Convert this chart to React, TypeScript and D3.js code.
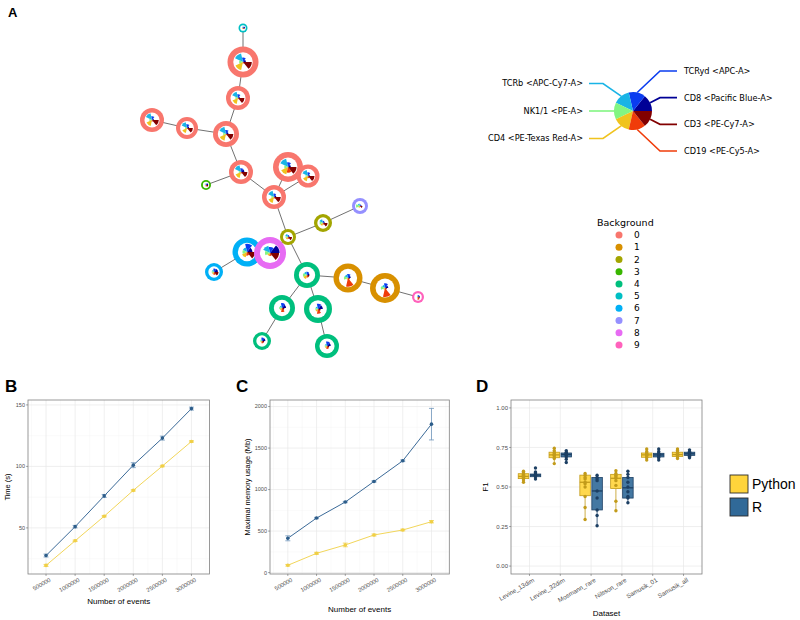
import * as d3 from 'd3';

// ---------- Panel A : FlowSOM tree ----------
// marker order = jet colour order, segments drawn counter-clockwise from east
const markerNames = ['CD8 <Pacific Blue-A>', 'TCRyd <APC-A>', 'TCRb <APC-Cy7-A>', 'NK1/1 <PE-A>', 'CD4 <PE-Texas Red-A>', 'CD19 <PE-Cy5-A>', 'CD3 <PE-Cy7-A>'];
const markerColors = ['#000096', '#0a3cf0', '#19b4e6', '#82f582', '#f0c31e', '#f03c0a', '#820000'];
const backgroundLevels = ['0', '1', '2', '3', '4', '5', '6', '7', '8', '9'];
const bgColors = ['#F8766D', '#D89000', '#A3A500', '#39B600', '#00BF7D', '#00BFC4', '#00B0F6', '#9590FF', '#E76BF3', '#FF62BC'];

// MST layout coordinates of the 25 clusters
const nodeX = [10.3, 10.3, 9.8, 1.2, 4.7, 8.6, 10.1, 6.6, 14.8, 16.8, 13.4, 22.0, 18.3, 14.8, 10.7, 13.0, 7.4, 16.7, 20.8, 24.5, 27.8, 14.2, 17.8, 12.2, 18.7];
const nodeY = [0.8, 4.2, 7.8, 10.0, 10.8, 11.4, 15.2, 16.5, 14.7, 15.6, 17.7, 18.6, 20.3, 21.7, 23.2, 23.3, 25.2, 25.5, 25.8, 26.8, 27.7, 28.8, 28.9, 32.1, 32.6];
const nodeCells = [90, 1068, 640, 640, 538, 751, 640, 111, 1000, 588, 640, 284, 360, 284, 934, 1138, 360, 751, 934, 1000, 160, 751, 871, 360, 640];
const nodeBg = [5, 0, 0, 0, 0, 0, 0, 3, 0, 0, 0, 7, 2, 2, 6, 8, 6, 4, 1, 1, 9, 4, 4, 4, 4];
const nodeStars = [
  [0.7, 0.5, 0.4, 0.3, 0.4, 0.3, 0.6],
  [0.3, 0.45, 0.9, 0.4, 0.85, 0.15, 0.9],
  [0.25, 0.5, 0.85, 0.35, 0.8, 0.15, 0.85],
  [0.25, 0.5, 0.9, 0.35, 0.8, 0.2, 0.9],
  [0.3, 0.55, 0.85, 0.3, 0.75, 0.15, 0.85],
  [0.3, 0.5, 0.9, 0.35, 0.85, 0.15, 0.9],
  [0.45, 0.5, 0.9, 0.3, 0.8, 0.2, 0.85],
  [0.7, 0.5, 0.3, 0.4, 0.3, 0.5, 0.7],
  [0.3, 0.5, 0.9, 0.4, 0.8, 0.6, 0.9],
  [0.25, 0.5, 0.85, 0.35, 0.75, 0.3, 0.9],
  [0.3, 0.45, 0.85, 0.35, 0.8, 0.2, 0.9],
  [0.3, 0.3, 0.5, 0.8, 0.4, 0.2, 0.5],
  [0.3, 0.4, 0.7, 0.6, 0.5, 0.3, 0.8],
  [0.3, 0.4, 0.6, 0.5, 0.5, 0.4, 0.8],
  [0.6, 0.9, 0.5, 0.5, 0.6, 0.4, 0.9],
  [0.95, 0.6, 0.75, 0.5, 0.3, 0.3, 0.9],
  [0.7, 0.6, 0.4, 0.4, 0.4, 0.5, 0.8],
  [0.3, 0.4, 0.4, 0.5, 0.5, 0.3, 0.3],
  [0.3, 0.45, 0.4, 0.45, 0.2, 0.95, 0.2],
  [0.35, 0.5, 0.35, 0.45, 0.2, 0.95, 0.2],
  [0.5, 0.5, 0.3, 0.3, 0.3, 0.7, 0.5],
  [0.5, 0.6, 0.3, 0.35, 0.3, 0.5, 0.3],
  [0.55, 0.6, 0.3, 0.3, 0.3, 0.55, 0.3],
  [0.6, 0.6, 0.3, 0.3, 0.3, 0.4, 0.4],
  [0.5, 0.6, 0.3, 0.3, 0.3, 0.4, 0.3],
];
const edges = [[0, 1], [1, 2], [2, 5], [3, 4], [4, 5], [5, 6], [6, 7], [6, 10], [10, 8], [10, 9], [10, 13], [13, 12], [12, 11], [13, 15], [15, 14], [14, 16], [13, 17], [17, 18], [18, 19], [19, 20], [17, 21], [21, 23], [17, 22], [22, 24]];

// ---------- Panels B & C : scaling ----------
const events = [500000, 1000000, 1500000, 2000000, 2500000, 3000000];
const timeR = [27.5, 51, 76, 101, 123, 147];
const timeRErr = [1.2, 1, 1.2, 2, 1.6, 1.2];
const timePy = [19.5, 39.5, 59.5, 80.5, 100.3, 120.3];
const timePyErr = [0.8, 0.6, 0.6, 0.6, 0.6, 0.6];
const memR = [413, 657, 850, 1098, 1347, 1788];
const memRErr = [30, 8, 8, 8, 10, 190];
const memPy = [88, 232, 333, 453, 513, 613];
const memPyErr = [10, 12, 22, 12, 10, 14];

// ---------- Panel D : F1 per dataset ----------
const datasets = ['Levine_13dim', 'Levine_32dim', 'Mosmann_rare', 'Nilsson_rare', 'Samusik_01', 'Samusik_all'];
// [lower whisker, q1, median, q3, upper whisker]
const pyStats = [
  [0.53, 0.553, 0.567, 0.584, 0.6],
  [0.648, 0.685, 0.703, 0.72, 0.745],
  [0.295, 0.445, 0.53, 0.575, 0.585],
  [0.35, 0.49, 0.555, 0.58, 0.603],
  [0.67, 0.688, 0.703, 0.715, 0.74],
  [0.68, 0.693, 0.705, 0.72, 0.74],
];
const rStats = [
  [0.55, 0.565, 0.575, 0.582, 0.595],
  [0.655, 0.69, 0.705, 0.715, 0.73],
  [0.255, 0.355, 0.475, 0.56, 0.575],
  [0.4, 0.43, 0.495, 0.56, 0.6],
  [0.67, 0.69, 0.703, 0.713, 0.74],
  [0.685, 0.7, 0.71, 0.72, 0.735],
];
const pyRuns = [
  [0.53, 0.545, 0.555, 0.56, 0.565, 0.57, 0.575, 0.58, 0.59, 0.6],
  [0.648, 0.68, 0.69, 0.7, 0.705, 0.71, 0.72, 0.73, 0.745],
  [0.295, 0.37, 0.44, 0.5, 0.52, 0.53, 0.55, 0.56, 0.575, 0.585],
  [0.35, 0.41, 0.51, 0.54, 0.555, 0.565, 0.575, 0.585, 0.603],
  [0.67, 0.685, 0.69, 0.7, 0.705, 0.71, 0.715, 0.725, 0.74],
  [0.68, 0.69, 0.7, 0.705, 0.71, 0.715, 0.72, 0.73, 0.74],
];
const rRuns = [
  [0.55, 0.565, 0.57, 0.575, 0.58, 0.582, 0.59, 0.595, 0.62],
  [0.655, 0.675, 0.69, 0.7, 0.705, 0.71, 0.715, 0.72, 0.73],
  [0.255, 0.32, 0.355, 0.43, 0.475, 0.54, 0.55, 0.56, 0.575],
  [0.4, 0.43, 0.44, 0.47, 0.5, 0.53, 0.56, 0.58, 0.6],
  [0.67, 0.685, 0.69, 0.7, 0.705, 0.71, 0.713, 0.725, 0.74],
  [0.685, 0.695, 0.7, 0.71, 0.715, 0.72, 0.725, 0.735],
];

const PY = '#FFD43B';
const PY_DARK = '#c29b1a';
const RB = '#306998';
const RB_DARK = '#1c3f63';
const GG = 'Liberation Sans, Arial, sans-serif';
const MPL = 'DejaVu Sans, sans-serif';

const TAU = Math.PI * 2;
const arc = d3.arc<any>();

function segment(k: number, r: number) {
  const step = TAU / markerNames.length;
  return arc({ innerRadius: 0, outerRadius: r, startAngle: Math.PI / 2 - (k + 1) * step, endAngle: Math.PI / 2 - k * step }) as string;
}

function PanelA() {
  const x = d3.scaleLinear().domain([0, 30]).range([140, 440]);
  const y = d3.scaleLinear().domain([0, 34]).range([20, 360]);
  const size = d3.scaleSqrt().domain([0, 1000]).range([0, 15]);

  // star legend
  const cx = 633, cy = 111, pr = 19;
  const step = TAU / markerNames.length;
  const right = [1, 0, 6, 5]; // TCRyd, CD8, CD3, CD19 top to bottom
  const left = [2, 3, 4];     // TCRb, NK1/1, CD4
  const ry = d3.scalePoint<number>().domain(right).range([cy - 40, cy + 40]);
  const ly = d3.scalePoint<number>().domain(left).range([cy - 27.5, cy + 27.5]);

  const bgy = d3.scalePoint<string>().domain(backgroundLevels).range([235, 345]);

  return (
    <g>
      <text x={8} y={17} fontFamily={GG} fontWeight="bold" fontSize={13}>A</text>
      {edges.map(([a, b], i) => (
        <line key={i} x1={x(nodeX[a])} y1={y(nodeY[a])} x2={x(nodeX[b])} y2={y(nodeY[b])} stroke="#4d4d4d" strokeWidth={0.8} />
      ))}
      {nodeX.map((nx, i) => {
        const r = size(nodeCells[i]);
        const inner = r * 0.63;
        return (
          <g key={i} transform={`translate(${x(nx)},${y(nodeY[i])})`}>
            <circle r={r} fill={bgColors[nodeBg[i]]} />
            <circle r={inner} fill="#fff" />
            {nodeStars[i].map((v, k) => (
              <path key={k} d={segment(k, v * inner)} fill={markerColors[k]} />
            ))}
          </g>
        );
      })}

      {/* marker legend */}
      <g fontFamily={MPL} fontSize={8.2}>
        {right.map(k => {
          const a = (k + 0.5) * step;
          const sx = cx + pr * Math.cos(a), sy = cy - pr * Math.sin(a);
          const yy = ry(k)!;
          return (
            <g key={k}>
              <polyline points={`${sx},${sy} ${cx + 27},${yy} ${cx + 44},${yy}`} fill="none" stroke={markerColors[k]} strokeWidth={1.6} />
              <text x={cx + 51} y={yy} dy="0.35em">{markerNames[k]}</text>
            </g>
          );
        })}
        {left.map(k => {
          const a = (k + 0.5) * step;
          const sx = cx + pr * Math.cos(a), sy = cy - pr * Math.sin(a);
          const yy = ly(k)!;
          return (
            <g key={k}>
              <polyline points={`${sx},${sy} ${cx - 30},${yy} ${cx - 44},${yy}`} fill="none" stroke={markerColors[k]} strokeWidth={1.6} />
              <text x={cx - 50} y={yy} dy="0.35em" textAnchor="end">{markerNames[k]}</text>
            </g>
          );
        })}
        {markerNames.map((m, k) => (
          <path key={m} d={segment(k, pr)} transform={`translate(${cx},${cy})`} fill={markerColors[k]} />
        ))}
      </g>

      {/* background legend */}
      <g fontFamily={MPL}>
        <text x={597} y={226} fontSize={9.5}>Background</text>
        {backgroundLevels.map((lv, i) => (
          <g key={lv}>
            <circle cx={619} cy={bgy(lv)} r={3.5} fill={bgColors[i]} />
            <text x={634} y={bgy(lv)} dy="0.35em" fontSize={9}>{lv}</text>
          </g>
        ))}
      </g>
    </g>
  );
}

interface Series { values: number[]; err: number[]; line: string; point: string; bar: string }

function LinePanel({ letter, letterX, left, right, yDomain, yTicks, yTitle, yTitleX, xTitleY, series }:
  { letter: string; letterX: number; left: number; right: number; yDomain: [number, number]; yTicks: number[]; yTitle: string; yTitleX: number; xTitleY: number; series: Series[] }) {
  const top = 400, bottom = 574;
  const x = d3.scaleLinear().domain([190000, 3310000]).range([left, right]);
  const y = d3.scaleLinear().domain(yDomain).range([bottom, top]);
  const yStep = yTicks[1] - yTicks[0];
  const yMinor = [yTicks[0] - yStep / 2, ...yTicks.map(t => t + yStep / 2)].filter(v => v > yDomain[0] && v < yDomain[1]);
  const xMinor = [250000, ...events.map(e => e + 250000)].filter(v => v < 3310000);
  const line = d3.line<number>().x((_, i) => x(events[i])).y(d => y(d));
  return (
    <g fontFamily={GG}>
      <text x={letterX} y={392} fontWeight="bold" fontSize={17}>{letter}</text>
      {xMinor.map(v => <line key={'xm' + v} x1={x(v)} x2={x(v)} y1={top} y2={bottom} stroke="#f3f3f3" strokeWidth={0.4} />)}
      {yMinor.map(v => <line key={'ym' + v} x1={left} x2={right} y1={y(v)} y2={y(v)} stroke="#f3f3f3" strokeWidth={0.4} />)}
      {events.map(v => <line key={'xM' + v} x1={x(v)} x2={x(v)} y1={top} y2={bottom} stroke="#e8e8e8" strokeWidth={0.7} />)}
      {yTicks.map(v => <line key={'yM' + v} x1={left} x2={right} y1={y(v)} y2={y(v)} stroke="#e8e8e8" strokeWidth={0.7} />)}
      {series.map((s, si) => (
        <g key={si}>
          <path d={line(s.values)!} fill="none" stroke={s.line} strokeWidth={1} />
          {s.values.map((v, i) => (
            <g key={i}>
              <line x1={x(events[i])} x2={x(events[i])} y1={y(v - s.err[i])} y2={y(v + s.err[i])} stroke={s.bar} strokeWidth={0.8} />
              <line x1={x(events[i]) - 2.5} x2={x(events[i]) + 2.5} y1={y(v - s.err[i])} y2={y(v - s.err[i])} stroke={s.bar} strokeWidth={0.8} />
              <line x1={x(events[i]) - 2.5} x2={x(events[i]) + 2.5} y1={y(v + s.err[i])} y2={y(v + s.err[i])} stroke={s.bar} strokeWidth={0.8} />
              <circle cx={x(events[i])} cy={y(v)} r={1.8} fill={s.point} />
            </g>
          ))}
        </g>
      ))}
      <rect x={left} y={top} width={right - left} height={bottom - top} fill="none" stroke="#808080" strokeWidth={0.8} />
      {yTicks.map(v => (
        <g key={'yt' + v}>
          <line x1={left - 2} x2={left} y1={y(v)} y2={y(v)} stroke="#555" strokeWidth={0.5} />
          <text x={left - 3} y={y(v)} dy="0.35em" textAnchor="end" fontSize={5.5} fill="#4d4d4d">{v}</text>
        </g>
      ))}
      {events.map(v => (
        <g key={'xt' + v}>
          <line x1={x(v)} x2={x(v)} y1={bottom} y2={bottom + 2} stroke="#555" strokeWidth={0.5} />
          <text transform={`translate(${x(v) + 3},${bottom + 3.5}) rotate(-30)`} dy="0.7em" textAnchor="end" fontSize={5.8} fill="#4d4d4d">{v}</text>
        </g>
      ))}
      <text x={(left + right) / 2} y={xTitleY} textAnchor="middle" fontSize={8}>Number of events</text>
      <text transform={`translate(${yTitleX},${(top + bottom) / 2}) rotate(-90)`} textAnchor="middle" fontSize={7.5}>{yTitle}</text>
    </g>
  );
}

function PanelD() {
  const left = 511, right = 702, top = 400, bottom = 574;
  const x = d3.scalePoint<string>().domain(datasets).range([left, right]).padding(0.6);
  const y = d3.scaleLinear().domain([-0.05, 1.05]).range([bottom, top]);
  const yTicks = [0, 0.25, 0.5, 0.75, 1];
  const yMinor = [0.125, 0.375, 0.625, 0.875];
  const fmt = d3.format('.2f');
  const bw = 10.5, off = 6;
  const groups = [
    { stats: pyStats, runs: pyRuns, fill: PY, dark: PY_DARK, dx: -off },
    { stats: rStats, runs: rRuns, fill: RB, dark: RB_DARK, dx: off },
  ];
  return (
    <g fontFamily={GG}>
      <text x={476} y={392} fontWeight="bold" fontSize={17}>D</text>
      {yMinor.map(v => <line key={'ym' + v} x1={left} x2={right} y1={y(v)} y2={y(v)} stroke="#f3f3f3" strokeWidth={0.4} />)}
      {datasets.map(d => <line key={'xM' + d} x1={x(d)} x2={x(d)} y1={top} y2={bottom} stroke="#e8e8e8" strokeWidth={0.7} />)}
      {yTicks.map(v => <line key={'yM' + v} x1={left} x2={right} y1={y(v)} y2={y(v)} stroke="#e8e8e8" strokeWidth={0.7} />)}
      {groups.map((g, gi) => datasets.map((d, i) => {
        const [lo, q1, med, q3, hi] = g.stats[i];
        const cx = x(d)! + g.dx;
        return (
          <g key={gi + d}>
            <line x1={cx} x2={cx} y1={y(lo)} y2={y(q1)} stroke={g.dark} strokeWidth={0.8} />
            <line x1={cx} x2={cx} y1={y(q3)} y2={y(hi)} stroke={g.dark} strokeWidth={0.8} />
            <rect x={cx - bw / 2} y={y(q3)} width={bw} height={Math.max(y(q1) - y(q3), 0.5)} fill={g.fill} fillOpacity={0.9} stroke={g.dark} strokeWidth={0.8} />
            <line x1={cx - bw / 2} x2={cx + bw / 2} y1={y(med)} y2={y(med)} stroke={g.dark} strokeWidth={1.3} />
            {g.runs[i].map((v, j) => <circle key={j} cx={cx} cy={y(v)} r={1.7} fill={g.dark} />)}
          </g>
        );
      }))}
      <rect x={left} y={top} width={right - left} height={bottom - top} fill="none" stroke="#808080" strokeWidth={0.8} />
      {yTicks.map(v => (
        <g key={'yt' + v}>
          <line x1={left - 2} x2={left} y1={y(v)} y2={y(v)} stroke="#555" strokeWidth={0.5} />
          <text x={left - 3} y={y(v)} dy="0.35em" textAnchor="end" fontSize={6} fill="#4d4d4d">{fmt(v)}</text>
        </g>
      ))}
      {datasets.map(d => (
        <g key={'xt' + d}>
          <line x1={x(d)} x2={x(d)} y1={bottom} y2={bottom + 2} stroke="#555" strokeWidth={0.5} />
          <text transform={`translate(${x(d)! + 3},${bottom + 3.5}) rotate(-30)`} dy="0.7em" textAnchor="end" fontSize={6.3} fill="#4d4d4d">{d}</text>
        </g>
      ))}
      <text x={(left + right) / 2} y={616} textAnchor="middle" fontSize={8}>Dataset</text>
      <text transform={`translate(488,${(top + bottom) / 2}) rotate(-90)`} textAnchor="middle" fontSize={8}>F1</text>
      {/* legend */}
      {[{ name: 'Python', fill: PY }, { name: 'R', fill: RB }].map((l, i) => (
        <g key={l.name} transform={`translate(730,${475 + i * 23})`}>
          <rect width={18} height={18} fill={l.fill} stroke="#2b2b2b" strokeWidth={0.9} />
          <text x={22} y={9} dy="0.36em" fontSize={14}>{l.name}</text>
        </g>
      ))}
    </g>
  );
}

export default function App() {
  return (
    <svg width={800} height={620} style={{ position: 'absolute', left: 0, top: 0, background: '#fff' }}>
      <PanelA />
      <LinePanel letter="B" letterX={5} left={28} right={209.5} yDomain={[12.5, 154]} yTicks={[50, 100, 150]}
        yTitle="Time (s)" yTitleX={9.5} xTitleY={604}
        series={[
          { values: timePy, err: timePyErr, line: '#f2d65a', point: '#f0cf45', bar: '#f0d04a' },
          { values: timeR, err: timeRErr, line: '#3b6a98', point: '#2d5d8a', bar: '#6f95bb' },
        ]} />
      <LinePanel letter="C" letterX={236} left={270} right={449.3} yDomain={[-17, 2079]} yTicks={[0, 500, 1000, 1500, 2000]}
        yTitle="Maximal memory usage (Mb)" yTitleX={250} xTitleY={612}
        series={[
          { values: memPy, err: memPyErr, line: '#f2d65a', point: '#f0cf45', bar: '#f0d04a' },
          { values: memR, err: memRErr, line: '#3b6a98', point: '#2d5d8a', bar: '#6f95bb' },
        ]} />
      <PanelD />
    </svg>
  );
}
